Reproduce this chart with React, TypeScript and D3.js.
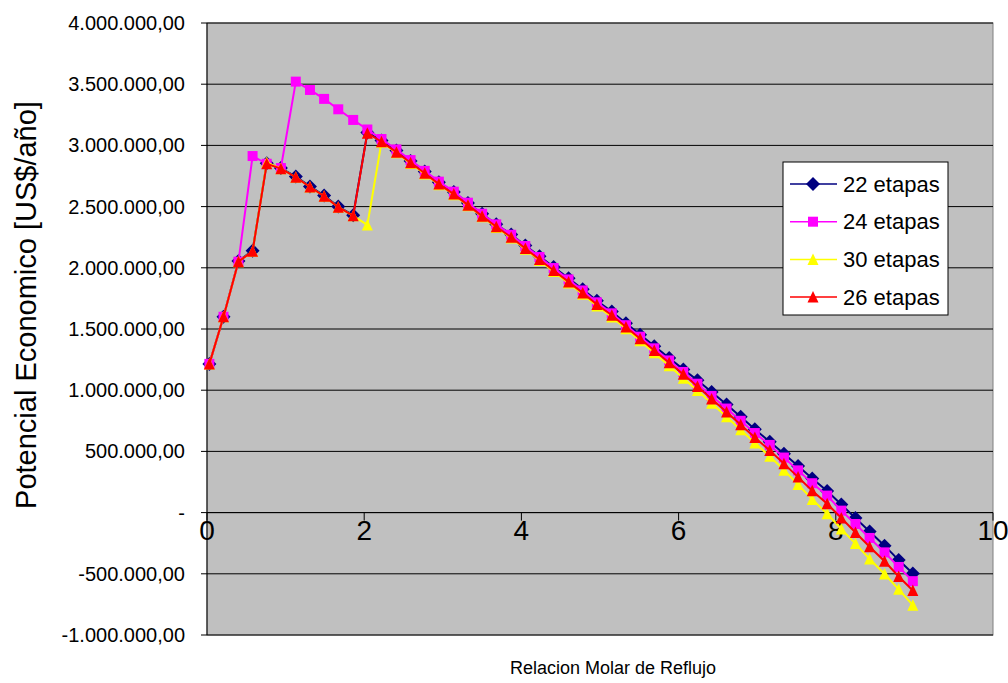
import React from "react";
import * as d3 from "d3";

// relacion molar de reflujo (x)
const reflujo = [
  0.03, 0.21, 0.4, 0.58, 0.76, 0.94, 1.13, 1.31, 1.49, 1.67, 1.86, 2.04, 2.22, 2.41, 2.59, 2.77, 2.95,
  3.14, 3.32, 3.5, 3.68, 3.87, 4.05, 4.23, 4.41, 4.6, 4.78, 4.96, 5.15, 5.33, 5.51, 5.69, 5.88, 6.06,
  6.24, 6.42, 6.61, 6.79, 6.97, 7.16, 7.34, 7.52, 7.7, 7.89, 8.07, 8.25, 8.43, 8.62, 8.8, 8.98,
];

// potencial economico, millones US$/año
const etapas22 = [
  1.215, 1.6, 2.055, 2.14, 2.855, 2.815, 2.745, 2.665, 2.59, 2.5, 2.43, 3.105, 3.04, 2.958, 2.872,
  2.787, 2.699, 2.619, 2.53, 2.442, 2.355, 2.272, 2.182, 2.094, 2.006, 1.915, 1.825, 1.73, 1.642,
  1.546, 1.454, 1.36, 1.263, 1.17, 1.081, 0.986, 0.884, 0.783, 0.681, 0.578, 0.48, 0.38, 0.278,
  0.176, 0.066, -0.045, -0.155, -0.27, -0.388, -0.498,
];
const etapas24 = [
  1.215, 1.6, 2.05, 2.913, 2.85, 2.815, 3.521, 3.453, 3.38, 3.295, 3.208, 3.13, 3.052, 2.967, 2.88,
  2.792, 2.704, 2.622, 2.532, 2.442, 2.355, 2.27, 2.178, 2.088, 1.998, 1.905, 1.815, 1.718, 1.628,
  1.531, 1.437, 1.342, 1.243, 1.149, 1.053, 0.953, 0.85, 0.75, 0.65, 0.553, 0.45, 0.345, 0.24,
  0.139, 0.016, -0.093, -0.207, -0.325, -0.444, -0.56,
];
const etapas30 = [
  1.215, 1.6, 2.05, 2.135, 2.86, 2.81, 2.74, 2.66, 2.585, 2.495, 2.425, 2.35, 3.025, 2.94, 2.853,
  2.767, 2.679, 2.597, 2.507, 2.417, 2.33, 2.244, 2.151, 2.06, 1.969, 1.875, 1.784, 1.688, 1.599,
  1.502, 1.404, 1.305, 1.2, 1.097, 0.997, 0.893, 0.784, 0.677, 0.568, 0.461, 0.347, 0.23, 0.108,
  -0.009, -0.134, -0.253, -0.379, -0.502, -0.627, -0.756,
];
const etapas26 = [
  1.215, 1.6, 2.05, 2.135, 2.85, 2.81, 2.74, 2.66, 2.585, 2.495, 2.425, 3.1, 3.03, 2.945, 2.858,
  2.772, 2.684, 2.602, 2.512, 2.422, 2.335, 2.25, 2.158, 2.068, 1.978, 1.885, 1.795, 1.7, 1.612,
  1.516, 1.421, 1.325, 1.225, 1.13, 1.031, 0.928, 0.822, 0.718, 0.613, 0.508, 0.4, 0.29, 0.178,
  0.072, -0.044, -0.163, -0.279, -0.398, -0.522, -0.636,
];

const xTicks = [0, 2, 4, 6, 8, 10];
const yTicks = [-1, -0.5, 0, 0.5, 1, 1.5, 2, 2.5, 3, 3.5, 4];

const series = [
  { name: "22 etapas", values: etapas22, color: "#000080", marker: "diamond" },
  { name: "24 etapas", values: etapas24, color: "#FF00FF", marker: "square" },
  { name: "30 etapas", values: etapas30, color: "#FFFF00", marker: "triangle" },
  { name: "26 etapas", values: etapas26, color: "#FF0000", marker: "triangle" },
];

const markerPath: Record<string, string> = {
  diamond: "M0,-7L7,0L0,7L-7,0Z",
  square: "M-5,-5H5V5H-5Z",
  triangle: "M0,-6L5.5,5.5L-5.5,5.5Z",
};

const locale = d3.formatLocale({
  decimal: ",",
  thousands: ".",
  grouping: [3],
  currency: ["", ""],
  minus: "-",
});
const fmt = locale.format(",.2f");

const font = "'Liberation Sans', Arial, sans-serif";

export default function App() {
  const width = 1008;
  const height = 683;
  const left = 207;
  const right = 993;
  const top = 23;
  const bottom = 635;

  const x = d3.scaleLinear().domain([0, 10]).range([left, right]);
  const y = d3.scaleLinear().domain([-1, 4]).range([bottom, top]);

  const line = d3
    .line<number>()
    .x((_, i) => x(reflujo[i]))
    .y((d) => y(d));

  const legendX = 783;
  const legendY = 162;

  return (
    <div style={{ position: "absolute", left: 0, top: 0 }}>
      <svg width={width} height={height} style={{ display: "block", background: "#fff" }}>
        <rect x={left} y={top} width={right - left} height={bottom - top} fill="#C0C0C0" stroke="#808080" />

        {yTicks.map((t) => (
          <g key={t}>
            <line x1={left} x2={right} y1={y(t)} y2={y(t)} stroke="#000" strokeWidth={1} />
            <line x1={left - 6} x2={left} y1={y(t)} y2={y(t)} stroke="#000" />
            <text
              x={185}
              y={y(t)}
              dy="0.35em"
              textAnchor="end"
              fontFamily={font}
              fontSize={20}
            >
              {t === 0 ? "-" : fmt(t * 1e6)}
            </text>
          </g>
        ))}

        <line x1={left} x2={left} y1={top} y2={bottom} stroke="#000" />
        <line x1={left} x2={right} y1={y(0)} y2={y(0)} stroke="#000" />
        {xTicks.map((t) => (
          <g key={t}>
            <line x1={x(t)} x2={x(t)} y1={y(0)} y2={y(0) + 8} stroke="#000" />
            <text
              x={x(t)}
              y={y(0) + 18}
              dy="0.35em"
              textAnchor="middle"
              fontFamily={font}
              fontSize={28}
            >
              {t}
            </text>
          </g>
        ))}

        {series.map((s) => (
          <g key={s.name}>
            <path d={line(s.values) ?? ""} fill="none" stroke={s.color} strokeWidth={2} />
            {s.values.map((v, i) => (
              <path
                key={i}
                d={markerPath[s.marker]}
                transform={`translate(${x(reflujo[i])},${y(v)})`}
                fill={s.color}
              />
            ))}
          </g>
        ))}

        <rect x={legendX} y={legendY} width={165} height={153} fill="#fff" stroke="#000" />
        {series.map((s, i) => {
          const ly = legendY + 22 + i * 37.7;
          return (
            <g key={s.name}>
              <line x1={legendX + 7} x2={legendX + 54} y1={ly} y2={ly} stroke={s.color} strokeWidth={1.5} />
              <path d={markerPath[s.marker]} transform={`translate(${legendX + 30},${ly})`} fill={s.color} />
              <text x={legendX + 60} y={ly} dy="0.35em" fontFamily={font} fontSize={22}>
                {s.name}
              </text>
            </g>
          );
        })}

        <text
          transform={`translate(36,${(top + bottom) / 2 - 24}) rotate(-90)`}
          textAnchor="middle"
          fontFamily={font}
          fontSize={29}
        >
          Potencial Economico [US$/año]
        </text>
        <text x={613} y={674} textAnchor="middle" fontFamily={font} fontSize={18}>
          Relacion Molar de Reflujo
        </text>
      </svg>
    </div>
  );
}
